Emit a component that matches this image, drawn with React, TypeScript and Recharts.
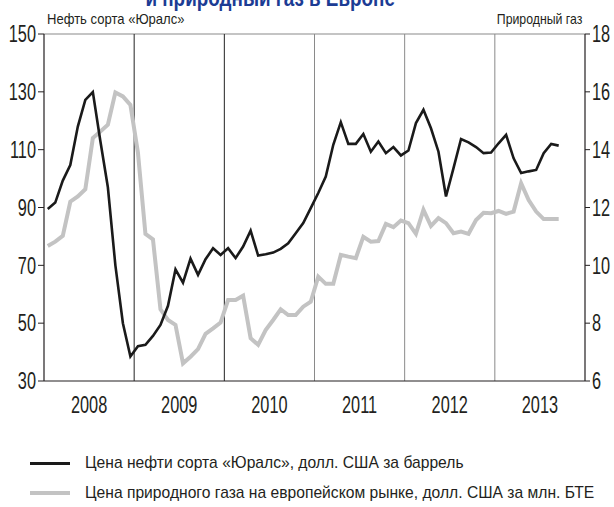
import { LineChart, Line, XAxis, YAxis, ReferenceLine, Legend } from "recharts";

// monthly values, Jan 2008 – Sep 2013
const uralsPrice = [
  89.5, 91.7, 99.3, 104.7, 118, 127.2, 129.9, 113, 97, 70, 50, 38.5,
  42, 42.5, 45.6, 49.4, 56, 68.6, 64, 72.3, 66.7, 72.1, 75.9, 73.6,
  75.9, 72.5, 76.5, 82, 73.4, 73.8, 74.4, 75.7, 77.6, 81.1, 84.6, 89.8,
  95, 100.7, 111.7, 119.5, 112, 112, 115.4, 109.3, 112.8, 108.8, 110.9, 108,
  109.7, 119.2, 123.8, 117.4, 109.3, 93.8, 103.6, 113.7, 112.5, 110.9, 108.8, 109,
  112.2, 115.1, 107, 101.9, 102.5, 103, 108.8, 112, 111.4,
];

const gasPrice = [
  10.67, 10.82, 11.02, 12.2, 12.38, 12.63, 14.4, 14.63, 14.86, 15.98, 15.84, 15.55,
  13.9, 11.09, 10.9, 8.48, 8.11, 7.94, 6.61, 6.84, 7.1, 7.63, 7.82, 8.02,
  8.8, 8.8, 8.95, 7.48, 7.25, 7.76, 8.11, 8.48, 8.28, 8.28, 8.57, 8.74,
  9.61, 9.36, 9.36, 10.36, 10.3, 10.25, 10.99, 10.82, 10.84, 11.43, 11.32, 11.55,
  11.46, 11.09, 11.92, 11.36, 11.63, 11.46, 11.11, 11.17, 11.09, 11.57, 11.82, 11.8,
  11.88, 11.78, 11.86, 12.84, 12.26, 11.86, 11.6, 11.6, 11.6,
];

const years = ["2008", "2009", "2010", "2011", "2012", "2013"];
const oilTicks = [30, 50, 70, 90, 110, 130, 150];
const gasTicks = [6, 8, 10, 12, 14, 16, 18];

const oilName = "Цена нефти сорта «Юралс», долл. США за баррель";
const gasName = "Цена природного газа на европейском рынке, долл. США за млн. БТЕ";

const data = uralsPrice.map((v, i) => ({ m: i + 0.5, oil: v, gas: gasPrice[i] }));
const yearMid = years.map((_, i) => i * 12 + 6);
const yearEdge = years.slice(1).map((_, i) => (i + 1) * 12);

const ink = "#231f20";
const grey = "#c3c3c3";
const font = '"Liberation Sans", Arial, sans-serif';

// condensed look: no narrow font installed, so squeeze horizontally
function NarrowTick(props: any) {
  const { x, y, payload, textAnchor, kind } = props;
  const label = kind === "year" ? years[(payload.value - 6) / 12] : String(payload.value);
  return (
    <g transform={`translate(${x},${y}) scale(0.71,1)`}>
      <text
        x={0}
        y={0}
        dy={kind === "year" ? "0.71em" : "0.36em"}
        textAnchor={textAnchor}
        fill={ink}
        fontSize={23}
        fontFamily={font}
      >
        {label}
      </text>
    </g>
  );
}

function Narrow({ children, scale, origin = "left" }: { children: any; scale: number; origin?: string }) {
  return (
    <span style={{ display: "inline-block", transform: `scaleX(${scale})`, transformOrigin: origin, whiteSpace: "nowrap" }}>
      {children}
    </span>
  );
}

function LegendBox() {
  const rows = [
    { name: oilName, color: "#1a1a1a", w: 3 },
    { name: gasName, color: grey, w: 4.5 },
  ];
  return (
    <div style={{ fontFamily: font, color: ink, fontSize: 17 }}>
      {rows.map((r) => (
        <div key={r.name} style={{ display: "flex", alignItems: "center", height: 30, whiteSpace: "nowrap" }}>
          <div style={{ width: 40, height: r.w, background: r.color, marginLeft: 30, marginRight: 15, flex: "none" }} />
          <Narrow scale={0.92}>{r.name}</Narrow>
        </div>
      ))}
    </div>
  );
}

export default function App() {
  return (
    <div style={{ position: "absolute", left: 0, top: 0, width: 614, height: 507, background: "#fff", overflow: "hidden" }}>
      <div
        style={{
          position: "absolute", left: 0, width: 540, top: -13, textAlign: "center",
          fontFamily: font, fontWeight: "bold", fontSize: 23, lineHeight: "23px", color: "#1c3c94",
        }}
      >
        <Narrow scale={0.82} origin="center">и природный газ в Европе</Narrow>
      </div>
      <div style={{ position: "absolute", left: 47, top: 10, fontFamily: font, fontSize: 15, color: ink }}>
        <Narrow scale={0.87}>Нефть сорта «Юралс»</Narrow>
      </div>
      <div style={{ position: "absolute", right: 32, top: 10, fontFamily: font, fontSize: 15, color: ink }}>
        <Narrow scale={0.82} origin="right">Природный газ</Narrow>
      </div>
      <LineChart width={614} height={507} data={data} margin={{ top: 34, right: 0, bottom: 96, left: 0 }}>
        <XAxis
          dataKey="m"
          type="number"
          domain={[0, 72]}
          ticks={yearMid}
          tickLine={false}
          tickMargin={10}
          axisLine={{ stroke: ink, strokeWidth: 1.2 }}
          tick={(p: any) => <NarrowTick {...p} kind="year" />}
          height={30}
        />
        <YAxis
          yAxisId="oil"
          domain={[30, 150]}
          ticks={oilTicks}
          width={44}
          tickSize={6}
          tickMargin={2}
          axisLine={{ stroke: ink, strokeWidth: 1.2 }}
          tickLine={{ stroke: ink }}
          tick={(p: any) => <NarrowTick {...p} />}
        />
        <YAxis
          yAxisId="gas"
          orientation="right"
          domain={[6, 18]}
          ticks={gasTicks}
          width={29}
          tickSize={5}
          tickMargin={2}
          axisLine={{ stroke: ink, strokeWidth: 1.2 }}
          tickLine={{ stroke: ink }}
          tick={(p: any) => <NarrowTick {...p} />}
        />
        <ReferenceLine yAxisId="oil" y={150} stroke="#8a8a8a" strokeWidth={1.2} />
        {yearEdge.map((x, i) => (
          <ReferenceLine key={x} yAxisId="oil" x={x} stroke={i < 2 ? "#222" : "#8a8a8a"} strokeWidth={1} />
        ))}
        <Line yAxisId="gas" dataKey="gas" name={gasName} stroke={grey} strokeWidth={4} dot={false} isAnimationActive={false} />
        <Line yAxisId="oil" dataKey="oil" name={oilName} stroke="#1a1a1a" strokeWidth={2.6} dot={false} isAnimationActive={false} />
        <Legend
          layout="horizontal"
          verticalAlign="middle"
          align="center"
          content={() => <LegendBox />}
          wrapperStyle={{ top: 448, left: 0, width: 614 }}
        />
      </LineChart>
    </div>
  );
}
